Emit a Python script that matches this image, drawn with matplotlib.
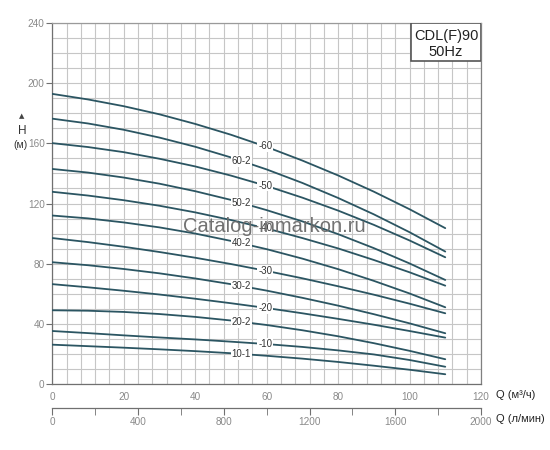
import numpy as np
import matplotlib
matplotlib.use("Agg")
import matplotlib.pyplot as plt
from matplotlib.patches import Rectangle

plt.rcParams['font.family'] = ['Liberation Sans', 'DejaVu Sans']

# Flow points (m³/h)
q = [0, 10, 20, 30, 40, 50, 60, 70, 80, 90, 100, 110]

# Head curves (m) per model
h_60   = [193.0, 189.3, 184.8, 179.4, 173.0, 165.8, 157.7, 148.6, 138.7, 127.9, 116.2, 103.6]
h_60_2 = [176.5, 173.3, 169.1, 163.9, 157.8, 150.7, 142.7, 133.7, 123.7, 112.8, 100.9, 88.0]
h_50   = [160.2, 157.6, 154.2, 149.8, 144.7, 138.6, 131.7, 123.9, 115.3, 105.8, 95.4, 84.2]
h_50_2 = [143.0, 140.6, 137.3, 133.2, 128.2, 122.4, 115.6, 108.1, 99.6, 90.3, 80.1, 69.1]
h_40   = [127.8, 125.3, 122.2, 118.5, 114.1, 109.0, 103.4, 97.0, 90.1, 82.4, 74.2, 65.3]
h_40_2 = [112.0, 110.1, 107.4, 104.1, 100.0, 95.1, 89.6, 83.3, 76.3, 68.5, 60.1, 50.9]
h_30   = [97.0, 94.3, 91.2, 87.7, 83.9, 79.7, 75.1, 70.2, 64.9, 59.3, 53.3, 46.9]
h_30_2 = [80.9, 78.9, 76.4, 73.5, 70.1, 66.3, 62.0, 57.2, 52.0, 46.3, 40.2, 33.6]
h_20   = [66.3, 64.2, 61.9, 59.4, 56.6, 53.6, 50.4, 46.9, 43.2, 39.3, 35.1, 30.7]
h_20_2 = [48.9, 48.6, 47.8, 46.4, 44.5, 42.1, 39.1, 35.6, 31.6, 27.0, 21.9, 16.3]
h_10   = [35.1, 33.7, 32.2, 30.8, 29.5, 28.0, 26.4, 24.5, 22.2, 19.5, 15.8, 11.3]
h_10_1 = [26.0, 25.0, 24.0, 22.9, 21.7, 20.3, 18.6, 16.7, 14.5, 12.0, 9.3, 6.3]

curve_names = ['-60', '60-2', '-50', '50-2', '-40', '40-2',
               '-30', '30-2', '-20', '20-2', '-10', '10-1']
curves = [h_60, h_60_2, h_50, h_50_2, h_40, h_40_2,
          h_30, h_30_2, h_20, h_20_2, h_10, h_10_1]

x_ticks = [0, 20, 40, 60, 80, 100, 120]
y_ticks = [0, 40, 80, 120, 160, 200, 240]
lpm_ticks = [0, 400, 800, 1200, 1600, 2000]
title_lines = ["CDL(F)90", "50Hz"]
watermark = "Catalog-inmarkon.ru"

fig = plt.figure(figsize=(5.5, 4.5), dpi=100)
ax = fig.add_axes([0.0951, 0.1473, 0.7794, 0.8009])

line_col = '#2b5562'
grid_col = '#c6c6c6'
tick_col = '#8a8a8a'

ax.set_xlim(0, 120)
ax.set_ylim(0, 240)
ax.set_xticks(np.arange(0, 121, 4), minor=True)
ax.set_yticks(np.arange(0, 241, 10), minor=True)
ax.set_xticks(x_ticks)
ax.set_yticks(y_ticks)
ax.grid(True, which='both', color=grid_col, linewidth=0.8)
ax.set_axisbelow(True)
for s in ax.spines.values():
    s.set_color('#9a9a9a')
    s.set_linewidth(0.9)
ax.spines['left'].set_color('#707070')
ax.spines['bottom'].set_color('#707070')
ax.spines['right'].set_color('#808080')
ax.tick_params(axis='both', which='minor', length=0)
ax.tick_params(axis='x', which='major', length=0, labelsize=7.2, labelcolor=tick_col, pad=6)
ax.tick_params(axis='y', which='major', length=4, color='#707070', labelsize=7.2,
               labelcolor=tick_col, pad=1.5)

for name, h in zip(curve_names, curves):
    ax.plot(q, h, color=line_col, linewidth=1.3, solid_capstyle='round', zorder=3)
    ql = 59.6 if name.startswith('-') else 52.9
    hl = np.interp(ql, q, h)
    ax.text(ql, hl, name, fontsize=7, color='#333333', ha='center', va='center',
            zorder=4, bbox=dict(facecolor='white', edgecolor='none', pad=0.6))

# Secondary axis (l/min)
sec = ax.secondary_xaxis(-0.0683, functions=(lambda x: x * 1000 / 60, lambda x: x * 60 / 1000))
sec.set_xticks(lpm_ticks)
sec.set_xticks(np.arange(0, 2001, 200), minor=True)
sec.spines['bottom'].set_color('#707070')
sec.spines['bottom'].set_linewidth(0.9)
sec.tick_params(axis='x', which='both', direction='out', length=5, color='#707070',
                labelsize=7.2, labelcolor=tick_col, pad=1)
sec.tick_params(axis='x', which='minor', labelbottom=False)

# Axis unit labels
fig.text(496 / 550, 1 - 394.7 / 450, "Q (м³/ч)", fontsize=8, color='#222222',
         ha='left', va='center')
fig.text(496 / 550, 1 - 419.3 / 450, "Q (л/мин)", fontsize=8, color='#222222',
         ha='left', va='center')
fig.text(22 / 550, 1 - 116 / 450, "▲", fontsize=5, color='#444444', ha='center',
         va='center', family='DejaVu Sans')
fig.text(22 / 550, 1 - 131 / 450, "H", fontsize=8.5, color='#333333', ha='center', va='center')
fig.text(21 / 550, 1 - 145.5 / 450, "(м)", fontsize=7.5, color='#333333', ha='center', va='center')

# Title box
x0 = (411 - 52.3) / 428.7
y0 = (383.7 - 61) / 360.4
ax.add_patch(Rectangle((x0, y0), 1 - x0, 1 - y0, transform=ax.transAxes,
                       facecolor='white', edgecolor='#555555', linewidth=1.2, zorder=6))
xc = (x0 + 1) / 2
ax.text(xc, (383.7 - 36) / 360.4, title_lines[0], transform=ax.transAxes, fontsize=10.5,
        color='#222222', ha='center', va='center', zorder=7)
ax.text(xc, (383.7 - 52) / 360.4, title_lines[1], transform=ax.transAxes, fontsize=10.5,
        color='#222222', ha='center', va='center', zorder=7)

# Watermark
fig.text(274 / 550, 1 - 227 / 450, watermark, fontsize=14.5, color='#6a6a6a',
         ha='center', va='center', alpha=0.95, zorder=10)

fig.savefig('out.png', dpi=100, facecolor='white')
